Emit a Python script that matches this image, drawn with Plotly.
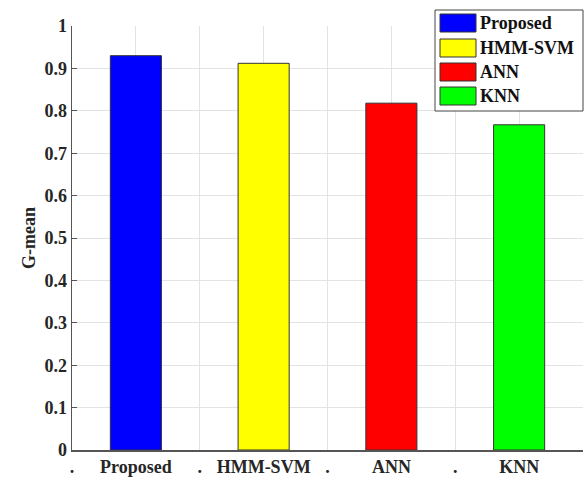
import plotly.graph_objects as go

# ---- data ----
methods = ["Proposed", "HMM-SVM", "ANN", "KNN"]
gmean = [0.930, 0.912, 0.818, 0.767]
colors = ["#0000ff", "#ffff00", "#ff0000", "#00ff00"]
tick_positions = [0, 0.5, 1, 1.5, 2, 2.5, 3, 3.5, 4]
tick_labels = [".", "Proposed", ".", "HMM-SVM", ".", "ANN", ".", "KNN", "."]
bar_positions = [0.5, 1.5, 2.5, 3.5]

W, H = 584, 479
# plot area in page pixels: left 72, right 583, top 26, bottom 450
ML = 72
MR = W - 583
MT = 26
MB = H - 450
PW, PH = W - ML - MR, H - MT - MB

def px(x):  # page x -> paper
    return (x - ML) / PW

def py(y):  # page y -> paper
    return (H - MB - y) / PH

FONT = "Liberation Serif"
FS = 18
fig = go.Figure()
fig.add_trace(go.Bar(
    x=bar_positions, y=gmean, width=0.4,
    marker=dict(color=colors, line=dict(color="#333333", width=1)),
    showlegend=False, hoverinfo="skip",
))

# manual legend (box + swatches + labels)
shapes = [dict(type="rect", xref="paper", yref="paper",
               x0=px(435), x1=px(583), y0=py(111), y1=py(10),
               line=dict(color="#444444", width=1), fillcolor="white", layer="above")]
annotations = []
row_tops = [14, 39, 63, 87]
for name, col, top in zip(methods, colors, row_tops):
    shapes.append(dict(type="rect", xref="paper", yref="paper",
                       x0=px(440), x1=px(476), y0=py(top + 18), y1=py(top),
                       line=dict(color="#333333", width=1), fillcolor=col, layer="above"))
    annotations.append(dict(xref="paper", yref="paper", x=px(478), y=py(top + 9),
                            xanchor="left", yanchor="middle", showarrow=False,
                            text="<b>%s</b>" % name,
                            font=dict(family=FONT, size=FS, color="#111111")))

yvals = [round(i * 0.1, 1) for i in range(11)]
fig.update_layout(
    width=W, height=H,
    margin=dict(l=ML, r=MR, t=MT, b=MB),
    plot_bgcolor="white", paper_bgcolor="white",
    font=dict(family=FONT, size=FS, color="#262626"),
    shapes=shapes, annotations=annotations,
    xaxis=dict(range=[0, 4], tickmode="array", tickvals=tick_positions,
               ticktext=["<b>%s</b>" % t for t in tick_labels],
               showgrid=True, gridcolor="#e3e3e3", gridwidth=1,
               showline=True, linecolor="#555555", linewidth=1.5,
               ticks="", zeroline=False, fixedrange=True),
    yaxis=dict(range=[0, 1], tickmode="array", tickvals=yvals,
               ticktext=["<b>%s</b>" % ("%g" % v) for v in yvals],
               showgrid=True, gridcolor="#e3e3e3", gridwidth=1,
               showline=True, linecolor="#555555", linewidth=1.5,
               ticks="inside", ticklen=5, tickcolor="#555555",
               zeroline=False,
               title=dict(text="<b>G-mean</b>", font=dict(family=FONT, size=FS), standoff=4)),
    bargap=0,
)
fig.write_html(
    "out.html",
    config={"displayModeBar": False, "staticPlot": True},
    post_script="document.body.style.margin='0';document.body.style.overflow='hidden';",
)
